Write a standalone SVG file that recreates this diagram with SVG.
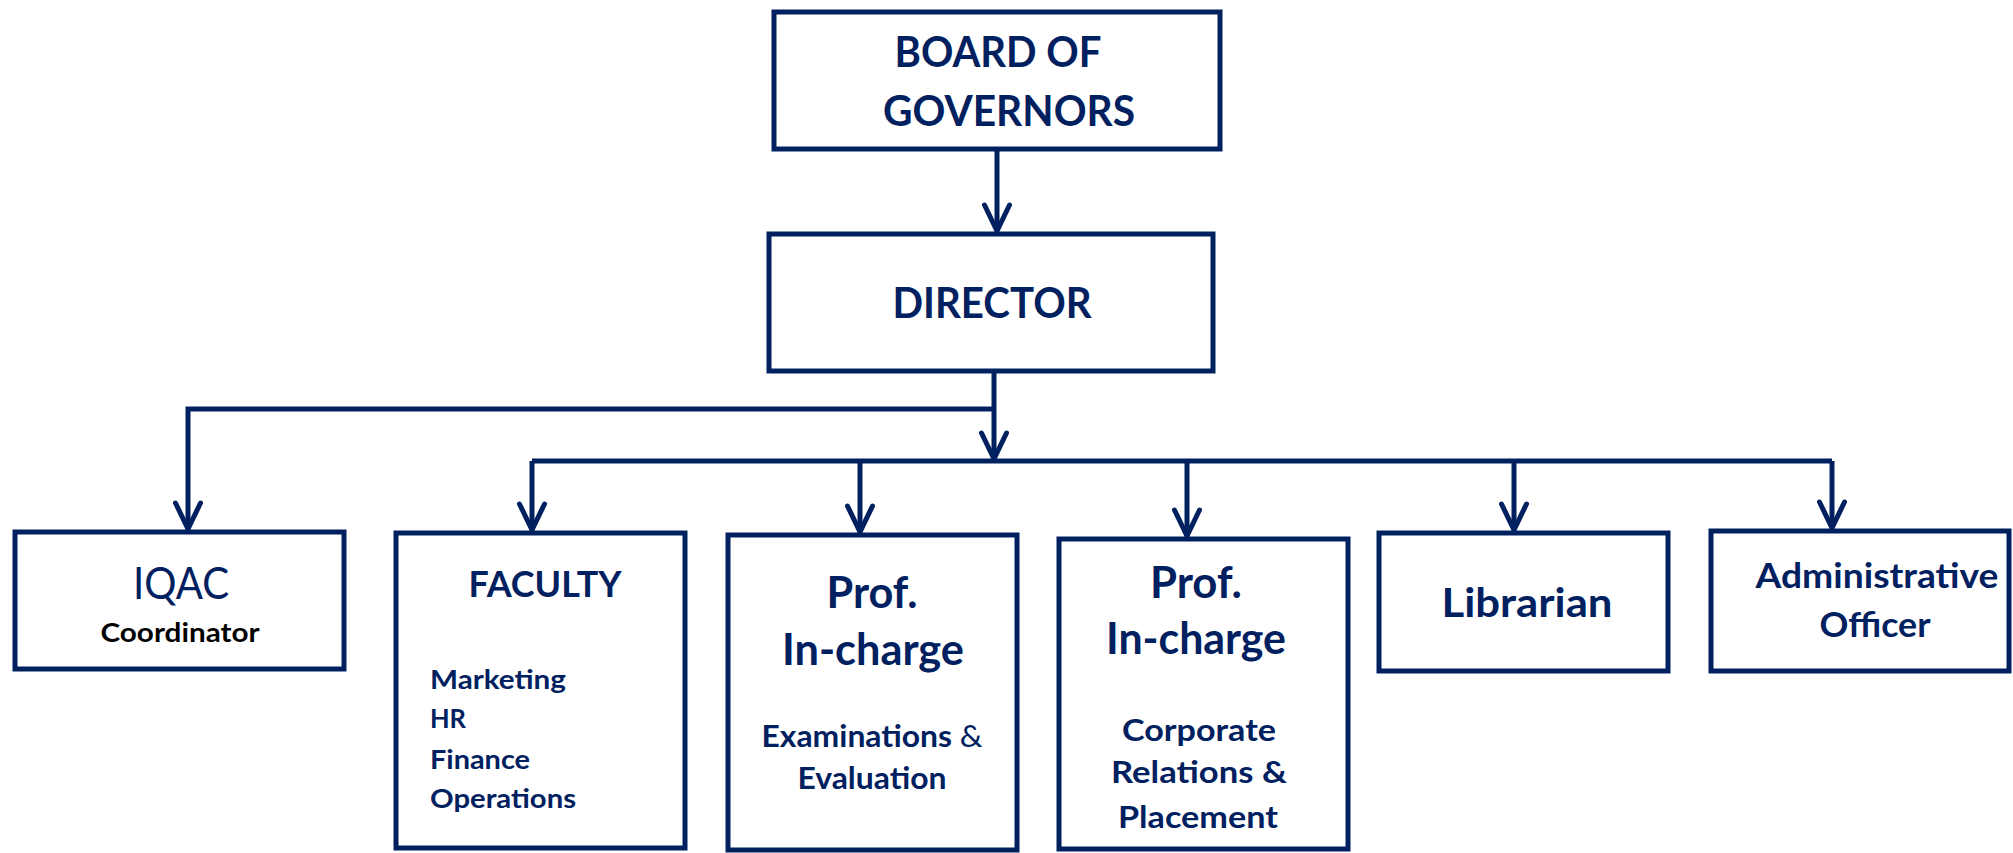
<svg xmlns="http://www.w3.org/2000/svg" width="2013" height="853" viewBox="0 0 2013 853">
<style>
.box{fill:#ffffff;stroke:#002060;stroke-width:5}
.conn{fill:none;stroke:#002060;stroke-width:5}
.t{font-family:Lato,"Open Sans","Liberation Sans",sans-serif;font-weight:bold;fill:#002060;text-anchor:middle}
.l{text-anchor:start}
.reg{font-weight:normal}
.blk{fill:#000000}
</style>
<defs>
<marker id="arr" markerUnits="userSpaceOnUse" markerWidth="40" markerHeight="40" viewBox="-32 -20 40 40" refX="0" refY="0" orient="auto">
<path d="M-26,-12.5 L0,0 L-26,12.5" fill="none" stroke="#002060" stroke-width="5" stroke-linecap="round" stroke-linejoin="round"/>
</marker>
</defs>
<rect width="2013" height="853" fill="#ffffff"/>
<g id="connectors">
<path class="conn" d="M997,150 V231" marker-end="url(#arr)"/>
<path class="conn" d="M994,373 V459" marker-end="url(#arr)"/>
<path class="conn" d="M994,409 H188 V529" marker-end="url(#arr)"/>
<path class="conn" d="M532,461 H1832"/>
<path class="conn" d="M532,461 V530" marker-end="url(#arr)"/>
<path class="conn" d="M860,461 V532" marker-end="url(#arr)"/>
<path class="conn" d="M1187,461 V536" marker-end="url(#arr)"/>
<path class="conn" d="M1514,461 V530" marker-end="url(#arr)"/>
<path class="conn" d="M1832,461 V528" marker-end="url(#arr)"/>
</g>
<g id="board">
<rect class="box" x="774" y="12" width="446" height="137"/>
<text class="t" x="998" y="67" font-size="42" textLength="207" lengthAdjust="spacingAndGlyphs">BOARD OF</text>
<text class="t" x="1009" y="126" font-size="42" textLength="252" lengthAdjust="spacingAndGlyphs">GOVERNORS</text>
</g>
<g id="director">
<rect class="box" x="769" y="234" width="444" height="137"/>
<text class="t" x="992" y="318" font-size="42" textLength="199" lengthAdjust="spacingAndGlyphs">DIRECTOR</text>
</g>
<g id="iqac">
<rect class="box" x="15" y="532" width="329" height="137"/>
<text class="t reg" x="181" y="599" font-size="44" textLength="96" lengthAdjust="spacingAndGlyphs">IQAC</text>
<text class="t blk" x="180" y="642" font-size="27" textLength="159" lengthAdjust="spacingAndGlyphs">Coordinator</text>
</g>
<g id="faculty">
<rect class="box" x="396" y="533" width="289" height="315"/>
<text class="t" x="545" y="597" font-size="36" textLength="153" lengthAdjust="spacingAndGlyphs">FACULTY</text>
<text class="t l" x="430" y="689" font-size="27" textLength="136" lengthAdjust="spacingAndGlyphs">Marketing</text>
<text class="t l" x="430" y="728" font-size="27" textLength="36" lengthAdjust="spacingAndGlyphs">HR</text>
<text class="t l" x="430" y="769" font-size="27" textLength="100" lengthAdjust="spacingAndGlyphs">Finance</text>
<text class="t l" x="430" y="808" font-size="27" textLength="146" lengthAdjust="spacingAndGlyphs">Operations</text>
</g>
<g id="prof-exam">
<rect class="box" x="728" y="535" width="289" height="315"/>
<text class="t" x="872" y="608" font-size="43" textLength="91" lengthAdjust="spacingAndGlyphs">Prof.</text>
<text class="t" x="873" y="665" font-size="43" textLength="182" lengthAdjust="spacingAndGlyphs">In-charge</text>
<text class="t" x="872" y="747" font-size="31" textLength="221" lengthAdjust="spacingAndGlyphs">Examinations <tspan class="reg">&amp;</tspan></text>
<text class="t" x="872" y="789" font-size="31" textLength="149" lengthAdjust="spacingAndGlyphs">Evaluation</text>
</g>
<g id="prof-placement">
<rect class="box" x="1059" y="539" width="289" height="310"/>
<text class="t" x="1196" y="598" font-size="43" textLength="92" lengthAdjust="spacingAndGlyphs">Prof.</text>
<text class="t" x="1196" y="654" font-size="43" textLength="180" lengthAdjust="spacingAndGlyphs">In-charge</text>
<text class="t" x="1199" y="741" font-size="31" textLength="154" lengthAdjust="spacingAndGlyphs">Corporate</text>
<text class="t" x="1199" y="783" font-size="31" textLength="176" lengthAdjust="spacingAndGlyphs">Relations &amp;</text>
<text class="t" x="1198" y="828" font-size="31" textLength="160" lengthAdjust="spacingAndGlyphs">Placement</text>
</g>
<g id="librarian">
<rect class="box" x="1379" y="533" width="289" height="138"/>
<text class="t" x="1527" y="617" font-size="41" textLength="171" lengthAdjust="spacingAndGlyphs">Librarian</text>
</g>
<g id="admin">
<rect class="box" x="1711" y="531" width="298" height="140"/>
<text class="t" x="1877" y="588" font-size="34" textLength="243" lengthAdjust="spacingAndGlyphs">Administrative</text>
<text class="t" x="1875" y="637" font-size="34" textLength="111" lengthAdjust="spacingAndGlyphs">Officer</text>
</g>
</svg>
